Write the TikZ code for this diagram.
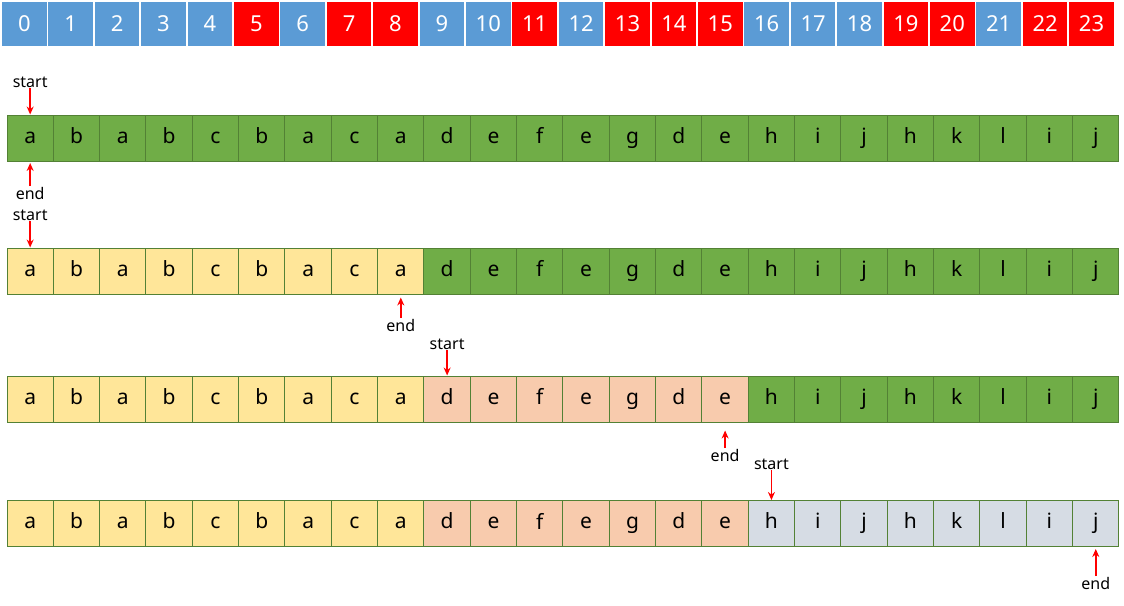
\documentclass[tikz,border=0pt]{standalone}
\usepackage{fontspec}
\setmainfont{Noto Sans}
\usetikzlibrary{arrows.meta}
\definecolor{idxblue}{HTML}{5B9BD5}
\definecolor{idxred}{HTML}{FF0000}
\definecolor{cgreen}{HTML}{70AD47}
\definecolor{cborder}{HTML}{538135}
\definecolor{cyellow}{HTML}{FFE699}
\definecolor{cpeach}{HTML}{F8CBAD}
\definecolor{cgray}{HTML}{D6DCE4}
\tikzset{
  idxcell/.style={minimum width=44.6pt,minimum height=44pt,inner sep=0pt,text=white,font=\fontsize{22}{22}\selectfont},
  letcell/.style={draw=cborder,line width=1pt,minimum width=46.33pt,minimum height=46pt,inner sep=0pt,text=black,font=\fontsize{21}{21}\selectfont},
  lbl/.style={inner sep=0.5pt,font=\fontsize{16}{16}\selectfont},
  ptr/.style={draw=red,line width=1.5pt,-{Stealth[length=8pt,width=7pt]}},
}
\begin{document}
\begin{tikzpicture}[x=1pt,y=-1pt]
\useasboundingbox (0,0) rectangle (1124,605);
% index row
\foreach \i in {0,...,23}{
  \def\col{idxblue}
  \foreach \r in {5,7,8,11,13,14,15,19,20,22,23}{\ifnum\i=\r\global\def\col{idxred}\fi}
  \node[idxcell,fill=\col] (idx\i) at ({2+22.3+46.4*\i},24) {\i};
}
% letter rows
\def\letters{a,b,a,b,c,b,a,c,a,d,e,f,e,g,d,e,h,i,j,h,k,l,i,j}
\foreach \row/\y in {1/138,2/271,3/399,4/523.5}{
  \foreach \ch [count=\n from 0] in \letters{
    \ifcase\row\or
      \def\fc{cgreen}%
    \or
      \ifnum\n<9 \def\fc{cyellow}\else\def\fc{cgreen}\fi
    \or
      \ifnum\n<9 \def\fc{cyellow}\else\ifnum\n<16 \def\fc{cpeach}\else\def\fc{cgreen}\fi\fi
    \or
      \ifnum\n<9 \def\fc{cyellow}\else\ifnum\n<16 \def\fc{cpeach}\else\def\fc{cgray}\fi\fi
    \fi
    \node[letcell,fill=\fc] (r\row c\n) at ({7+23.165+46.33*\n},\y) {\ch\vphantom{bg}};
  }
}
% pointers
\node[lbl] (s1) at (r1c0 |- 0,82) {start};
\draw[ptr] (s1.south) -- (r1c0.north);
\node[lbl] (e1) at (r1c0 |- 0,193) {end};
\draw[ptr] (e1.north) -- ([yshift=-1.5pt]r1c0.south);
\node[lbl] (s2) at (r2c0 |- 0,215) {start};
\draw[ptr] (s2.south) -- (r2c0.north);
\node[lbl] (e2) at (r2c8 |- 0,325) {end};
\draw[ptr] (e2.north) -- ([yshift=-3pt]r2c8.south);
\node[lbl] (s3) at (r3c9 |- 0,344) {start};
\draw[ptr] (s3.south) -- (r3c9.north);
\node[lbl] (e3) at (r3c15 |- 0,455) {end};
\draw[ptr] (e3.north) -- ([yshift=-8pt]r3c15.south);
\node[lbl] (s4) at (r4c16 |- 0,464) {start};
\draw[ptr] (s4.south) -- (r4c16.north);
\node[lbl] (e4) at (r4c23 |- 0,583) {end};
\draw[ptr] (e4.north) -- ([yshift=-2pt]r4c23.south);
\end{tikzpicture}
\end{document}
